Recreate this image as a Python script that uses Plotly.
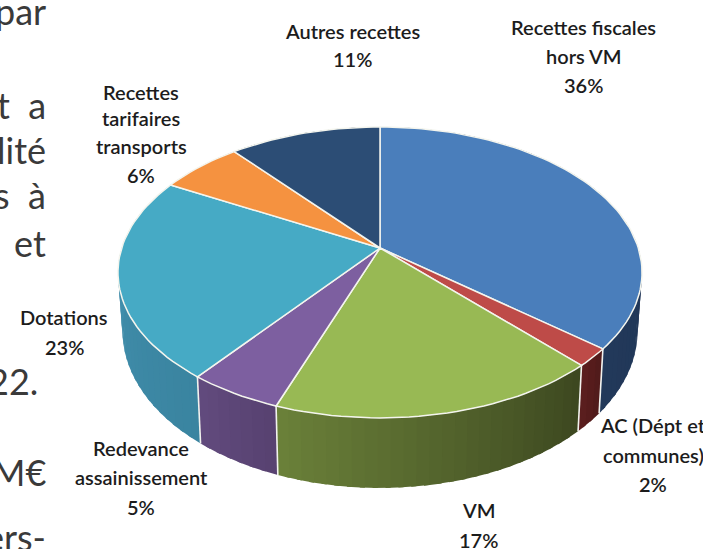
import math
import plotly.graph_objects as go

# ---- data ----
categories = ["Recettes fiscales hors VM", "AC (Dépt et communes)", "VM",
              "Redevance assainissement", "Dotations", "Recettes tarifaires transports",
              "Autres recettes"]
values = [36.0, 2.0, 17.5, 5.0, 22.5, 6.0, 11.0]
percent_labels = ["36%", "2%", "17%", "5%", "23%", "6%", "11%"]

# ---- styles ----
top_colors = ["#4a7ebb", "#be4b48", "#98b954", "#7d5fa0", "#46aac5", "#f59240", "#2c4d75"]
wall_left = ["#22395a", "#5c1f1f", "#6b8139", "#624b7e", "#4595b3", "#b56a2e", "#1f3552"]
wall_right = ["#1c3050", "#4f1a1a", "#3c4720", "#574170", "#3a84a0", "#b56a2e", "#1f3552"]

CX, CY, A, B, K = 380.0, 248.0, 258.3, 141.4, 0.168
SX, SY, DROP = 0.983, 1.08, 56.4


def project(theta, bottom=False):
    X, Y = math.sin(theta), math.cos(theta)
    w = 1 + K * Y
    px, py = A * X / w, -B * Y / w
    if bottom:
        return CX + SX * px, CY + SY * py + DROP
    return CX + px, CY + py


def mix(c1, c2, t):
    a = [int(c1[i:i + 2], 16) for i in (1, 3, 5)]
    b = [int(c2[i:i + 2], 16) for i in (1, 3, 5)]
    return "rgb(%d,%d,%d)" % tuple(round(p + (q - p) * t) for p, q in zip(a, b))


total = sum(values)
edges = [0.0]
for v in values:
    edges.append(edges[-1] + v / total * 2 * math.pi)

fig = go.Figure()

# outer wall of each slice, drawn as overlapping gradient strips
for i in range(len(values)):
    n = max(3, int(values[i] * 1.5))
    step = (edges[i + 1] - edges[i]) / n
    for j in range(n):
        t0 = edges[i] + step * j
        t1 = min(t0 + step * 1.4, edges[i + 1])
        col = mix(wall_left[i], wall_right[i], 1 - (j + 0.5) / n)
        upper = [project(t0 + (t1 - t0) * s / 4) for s in range(5)]
        lower = [project(t0 + (t1 - t0) * s / 4, True) for s in range(5)][::-1]
        pts = upper + lower + upper[:1]
        fig.add_trace(go.Scatter(x=[p[0] for p in pts], y=[p[1] for p in pts], mode="lines",
                                 fill="toself", fillcolor=col, line=dict(width=0),
                                 hoverinfo="skip"))

# white edges of the wall
for e in edges[:-1]:
    p, q = project(e), project(e, True)
    fig.add_trace(go.Scatter(x=[p[0], q[0]], y=[p[1], q[1]], mode="lines",
                             line=dict(color="#f2f2ee", width=1.6), hoverinfo="skip"))

# top face
for i in range(len(values)):
    n = max(6, int(values[i] * 2))
    arc = [project(edges[i] + (edges[i + 1] - edges[i]) * s / n) for s in range(n + 1)]
    pts = [(CX, CY)] + arc + [(CX, CY)]
    fig.add_trace(go.Scatter(x=[p[0] for p in pts], y=[p[1] for p in pts], mode="lines",
                             fill="toself", fillcolor=top_colors[i],
                             line=dict(color="#f4f5ee", width=1.5), hoverinfo="skip",
                             name=categories[i]))

# ---- labels ----
label_lines = [
    ["Recettes fiscales", "hors VM", percent_labels[0]],
    ["AC (Dépt et", "communes)", percent_labels[1]],
    ["VM", percent_labels[2]],
    ["Redevance", "assainissement", percent_labels[3]],
    ["Dotations", percent_labels[4]],
    ["Recettes", "tarifaires", "transports", percent_labels[5]],
    ["Autres recettes", percent_labels[6]],
]
label_x = [583, 653, 478, 141, 64, 141, 352]
label_y = [[27, 56, 85], [425, 455, 484], [510, 540], [448, 477, 507], [317, 347],
           [92, 118, 146, 175], [31, 59]]
annotations = []
for lines, x, ys in zip(label_lines, label_x, label_y):
    for line, y in zip(lines, ys):
        annotations.append(dict(x=x, y=y, xref="x", yref="y", text=line, showarrow=False,
                                xanchor="center", yanchor="middle",
                                font=dict(family="Lato", size=20, color="#1c1c1c", weight=600)))

# cropped paragraph of the surrounding page
side_text = ["par", "t  a", "lité", "s  à", "et", "22.", "M€", "ers-"]
side_right = [48, 48, 48, 48, 48, 40, 48, 48]
side_y = [11, 105, 150, 195, 243, 381, 472, 537]
for line, x, y in zip(side_text, side_right, side_y):
    annotations.append(dict(x=x, y=y, xref="x", yref="y",
                            text=line.replace("  ", "&nbsp;&nbsp;"), showarrow=False,
                            xanchor="right", yanchor="middle",
                            font=dict(family="Lato", size=36, color="#3a3a3a")))

fig.update_layout(
    width=703, height=549, margin=dict(l=0, r=0, t=0, b=0),
    paper_bgcolor="white", plot_bgcolor="white", showlegend=False,
    xaxis=dict(range=[0, 703], visible=False, fixedrange=True),
    yaxis=dict(range=[549, 0], visible=False, fixedrange=True),
    annotations=annotations,
)
fig.write_html("out.html", config=dict(displayModeBar=False),
               post_script="document.body.style.margin='0';document.body.style.overflow='hidden';")
